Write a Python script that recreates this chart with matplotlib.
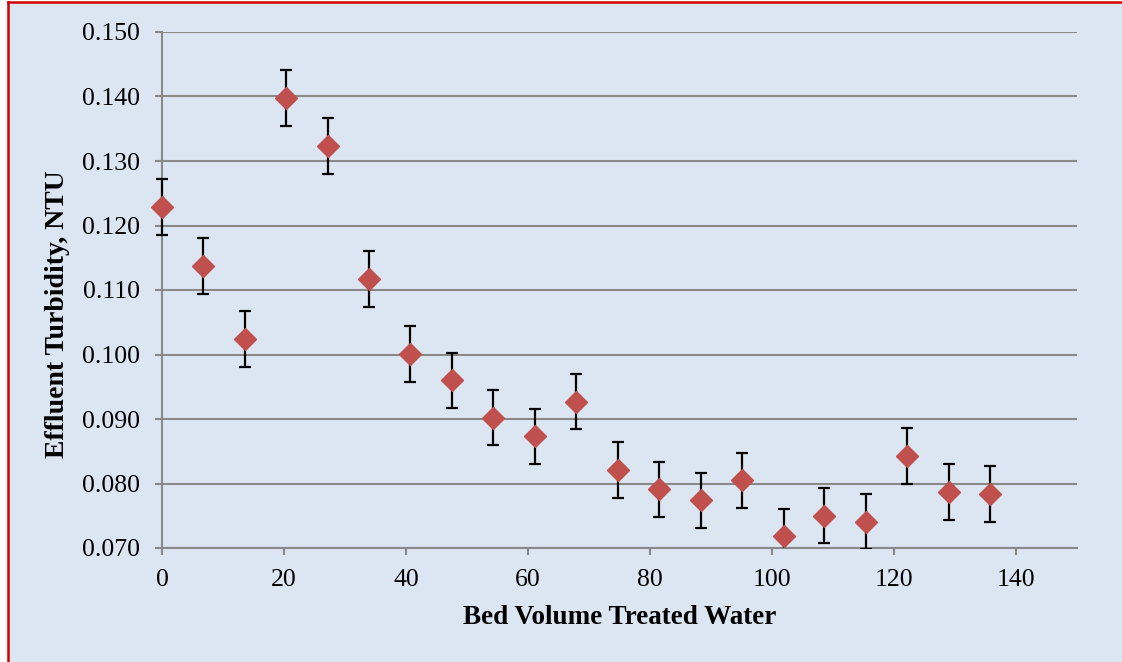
import numpy as np
import matplotlib.pyplot as plt
from matplotlib.patches import Rectangle
from matplotlib.lines import Line2D

plt.rcParams['font.family'] = ['Liberation Serif', 'DejaVu Serif']

# Bed volumes and measured effluent turbidity
bed_volume = [0.0, 6.8, 13.6, 20.4, 27.2, 33.9, 40.7, 47.5, 54.3, 61.1, 67.9,
              74.7, 81.5, 88.3, 95.1, 101.9, 108.6, 115.4, 122.2, 129.0, 135.8]
turbidity = [0.1229, 0.1137, 0.1024, 0.1398, 0.1323, 0.1117, 0.1001, 0.0960,
             0.0902, 0.0873, 0.0927, 0.0821, 0.0791, 0.0774, 0.0805, 0.0718,
             0.0750, 0.0741, 0.0843, 0.0787, 0.0784]
turbidity_err = [0.0043] * len(turbidity)

y_ticks = [0.070, 0.080, 0.090, 0.100, 0.110, 0.120, 0.130, 0.140, 0.150]
x_ticks = [0, 20, 40, 60, 80, 100, 120, 140]

bg = '#DCE6F2'
grid_col = '#898989'
W, H = 1122, 662

fig = plt.figure(figsize=(W / 100, H / 100), dpi=100, facecolor='white')

# chart area background with red frame on the top and left edges
fig.patches.append(Rectangle((8 / W, 0), 1, 1 - 2 / H, transform=fig.transFigure,
                             facecolor=bg, edgecolor='none', zorder=-2))
fig.lines.append(Line2D([8 / W, 1], [1 - 2 / H, 1 - 2 / H], transform=fig.transFigure,
                        color='#D00000', linewidth=1.8, zorder=-1))
fig.lines.append(Line2D([8 / W, 8 / W], [0, 1 - 2 / H], transform=fig.transFigure,
                        color='#D00000', linewidth=1.8, zorder=-1))

ax = fig.add_axes([162 / W, 1 - 548 / H, (1077 - 162) / W, (548 - 32) / H])
ax.set_facecolor(bg)

eb = ax.errorbar(bed_volume, turbidity, yerr=turbidity_err, fmt='none',
                 ecolor='black', elinewidth=1.6, capsize=4.5, capthick=1.6,
                 zorder=3)
# cut error bars at the x axis but let the first one poke out on the left
clip_box = Rectangle((-0.05, 0), 1.1, 1.1, transform=ax.transAxes,
                     facecolor='none', edgecolor='none')
ax.add_patch(clip_box)
for art in eb.get_children():
    art.set_clip_path(clip_box)

ax.plot(bed_volume, turbidity, linestyle='none', marker='D', markersize=11,
        color='#C0504D', markeredgecolor='#C0504D', zorder=4, clip_on=False)

ax.set_xlim(0, 150)
ax.set_ylim(0.070, 0.150)
ax.set_xticks(x_ticks)
ax.set_yticks(y_ticks)
ax.set_yticklabels([f'{v:.3f}' for v in y_ticks])

ax.yaxis.grid(True, color=grid_col, linewidth=1.5)
ax.set_axisbelow(True)
for side in ['top', 'right']:
    ax.spines[side].set_visible(False)
for side in ['left', 'bottom']:
    ax.spines[side].set_color(grid_col)
    ax.spines[side].set_linewidth(1.5)

ax.tick_params(axis='both', colors=grid_col, width=1.5, length=5,
               labelsize=18.5, labelcolor='black')
ax.tick_params(axis='y', pad=11)
ax.tick_params(axis='x', pad=10)

fig.text(619.5 / W, 1 - 618 / H, 'Bed Volume Treated Water', fontsize=19.5,
         fontweight='bold', ha='center', va='center')
fig.text(57 / W, 1 - 314 / H, 'Effluent Turbidity, NTU', fontsize=20,
         fontweight='bold', rotation=90, ha='center', va='center')

fig.savefig('out.png', dpi=100, facecolor='white')
